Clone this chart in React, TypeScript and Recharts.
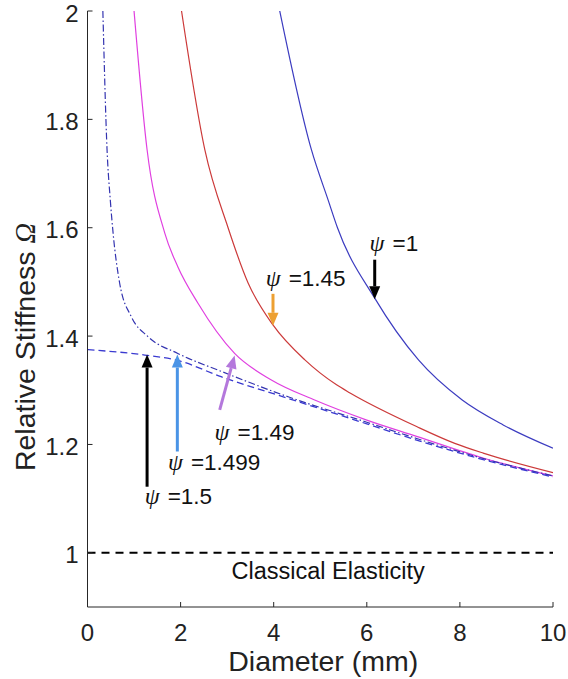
import { LineChart, Line, XAxis, YAxis, ReferenceLine, ReferenceDot } from "recharts";

// diameter (mm) and relative stiffness, one pair of arrays per psi
const psi1D = [4.13, 4.81, 5.17, 5.37, 6.17, 7.11, 8.05, 8.93, 10];
const psi1W = [2.0, 1.744, 1.651, 1.6, 1.47, 1.356, 1.282, 1.236, 1.193];

const psi145D = [2.02, 2.52, 3.02, 3.45, 3.98, 4.67, 5.35, 5.64, 7.07, 7.89, 8.5, 10];
const psi145W = [2.0, 1.744, 1.6, 1.498, 1.421, 1.356, 1.31, 1.295, 1.233, 1.202, 1.184, 1.148];

const psi149D = [1.0, 1.28, 1.66, 1.94, 2.37, 3.16, 3.95, 4.88, 6.0, 7.07, 8.5, 10];
const psi149W = [2.0, 1.744, 1.59, 1.528, 1.461, 1.368, 1.319, 1.282, 1.245, 1.215, 1.175, 1.142];

const psi1499D = [0.33, 0.42, 0.49, 0.55, 0.69, 0.94, 1.3, 1.94, 2.87, 4.31, 6.0, 7.07, 8.5, 10];
const psi1499W = [2.0, 1.744, 1.651, 1.59, 1.498, 1.436, 1.399, 1.368, 1.335, 1.288, 1.241, 1.211, 1.174, 1.142];

const psi15D = [0, 1.23, 1.94, 2.87, 4.31, 6.0, 7.07, 8.5, 10];
const psi15W = [1.375, 1.365, 1.355, 1.325, 1.285, 1.238, 1.208, 1.172, 1.14];

const xTicks = [0, 2, 4, 6, 8, 10];
const yTicks = [1, 1.2, 1.4, 1.6, 1.8, 2];

const toPts = (d: number[], w: number[]) => d.map((v, i) => ({ d: v, w: w[i] }));

const AXIS = "#262626";
const SANS = "'Liberation Sans', Arial, sans-serif";
const SERIF = "'Liberation Serif', 'Times New Roman', serif";

function XTick({ x, y, payload }: any) {
  const ay = y - 10;
  return (
    <g>
      <line x1={x} y1={ay} x2={x} y2={ay - 5} stroke={AXIS} />
      <text x={x} y={ay + 25} textAnchor="middle" dominantBaseline="central" fontSize={24} fill="#222">
        {payload.value}
      </text>
    </g>
  );
}

function YTick({ x, y, payload }: any) {
  const ax = x + 9;
  return (
    <g>
      <line x1={ax} y1={y} x2={ax + 5} y2={y} stroke={AXIS} />
      <text x={x} y={y + 2} textAnchor="end" dominantBaseline="central" fontSize={24} fill="#222">
        {payload.value}
      </text>
    </g>
  );
}

const arrow = (color: string) => (p: any) => {
  const { x1, y1, x2, y2 } = p;
  const a = Math.atan2(y2 - y1, x2 - x1);
  const len = 13;
  const hw = 5.5;
  const bx = x2 - len * Math.cos(a);
  const by = y2 - len * Math.sin(a);
  const nx = -Math.sin(a) * hw;
  const ny = Math.cos(a) * hw;
  return (
    <g>
      <line x1={x1} y1={y1} x2={bx} y2={by} stroke={color} strokeWidth={3} />
      <polygon points={`${x2},${y2} ${bx + nx},${by + ny} ${bx - nx},${by - ny}`} fill={color} />
    </g>
  );
};

const psiLabel = (value: string) => (p: any) => (
  <text x={p.cx} y={p.cy} dominantBaseline="central" fontSize={22.5} fill="#111" fontFamily={SANS}>
    <tspan fontFamily={SERIF} fontStyle="italic" fontSize={24}>ψ</tspan>
    <tspan dx={8}>={value}</tspan>
  </text>
);

const classicLabel = (p: any) => (
  <text x={p.cx} y={p.cy} textAnchor="middle" dominantBaseline="central" fontSize={23.5} fill="#111" fontFamily={SANS}>
    Classical Elasticity
  </text>
);

const xLabel = (props: any) => {
  const vb = props.viewBox;
  return (
    <text x={vb.x + vb.width / 2 + 3} y={661} textAnchor="middle" dominantBaseline="central" fontSize={28.5} fill="#222">
      Diameter (mm)
    </text>
  );
};

const yLabel = (props: any) => {
  const vb = props.viewBox;
  const cx = 25;
  const cy = vb.y + vb.height / 2 + 38;
  return (
    <text x={cx} y={cy} transform={`rotate(-90 ${cx} ${cy})`} textAnchor="middle" dominantBaseline="central" fontSize={28.5} fill="#222">
      Relative Stiffness <tspan fontFamily={SERIF} fontStyle="italic">Ω</tspan>
    </text>
  );
};

export default function App() {
  return (
    <div style={{ position: "absolute", left: 0, top: 0, background: "#fff", fontFamily: SANS }}>
      <LineChart width={568} height={679} margin={{ top: 11, right: 15, bottom: 0, left: 0 }}>
        <XAxis
          type="number"
          dataKey="d"
          domain={[0, 10]}
          ticks={xTicks}
          allowDataOverflow
          height={72}
          stroke={AXIS}
          tickLine={false}
          tickSize={0}
          tickMargin={10}
          tick={<XTick />}
          label={{ content: xLabel }}
        />
        <YAxis
          type="number"
          dataKey="w"
          domain={[0.9, 2]}
          ticks={yTicks}
          allowDataOverflow
          width={87.5}
          stroke={AXIS}
          tickLine={false}
          tickSize={0}
          tickMargin={9}
          tick={<YTick />}
          label={{ content: yLabel }}
        />
        <ReferenceLine y={1} stroke="#000" strokeWidth={2} strokeDasharray="8 6" />

        <Line data={toPts(psi1D, psi1W)} dataKey="w" type="monotone" stroke="#3c3cc0" strokeWidth={1.2} dot={false} isAnimationActive={false} />
        <Line data={toPts(psi145D, psi145W)} dataKey="w" type="monotone" stroke="#cc3a3a" strokeWidth={1.2} dot={false} isAnimationActive={false} />
        <Line data={toPts(psi149D, psi149W)} dataKey="w" type="monotone" stroke="#e040e0" strokeWidth={1.2} dot={false} isAnimationActive={false} />
        <Line data={toPts(psi1499D, psi1499W)} dataKey="w" type="monotone" stroke="#3434b0" strokeWidth={1.2} strokeDasharray="7 2.5 1.5 2.5" dot={false} isAnimationActive={false} />
        <Line data={toPts(psi15D, psi15W)} dataKey="w" type="monotone" stroke="#3a3ad0" strokeWidth={1.3} strokeDasharray="7 4" dot={false} isAnimationActive={false} />

        <ReferenceLine segment={[{ x: 6.17, y: 1.541 }, { x: 6.17, y: 1.468 }]} shape={arrow("#000")} />
        <ReferenceLine segment={[{ x: 3.985, y: 1.478 }, { x: 3.985, y: 1.419 }]} shape={arrow("#eda032")} />
        <ReferenceLine segment={[{ x: 2.84, y: 1.264 }, { x: 3.16, y: 1.364 }]} shape={arrow("#b478dc")} />
        <ReferenceLine segment={[{ x: 1.93, y: 1.187 }, { x: 1.93, y: 1.366 }]} shape={arrow("#4a94e6")} />
        <ReferenceLine segment={[{ x: 1.28, y: 1.122 }, { x: 1.28, y: 1.366 }]} shape={arrow("#000")} />

        <ReferenceDot x={6.06} y={1.572} r={0} shape={psiLabel("1")} />
        <ReferenceDot x={3.83} y={1.507} r={0} shape={psiLabel("1.45")} />
        <ReferenceDot x={2.73} y={1.223} r={0} shape={psiLabel("1.49")} />
        <ReferenceDot x={1.73} y={1.167} r={0} shape={psiLabel("1.499")} />
        <ReferenceDot x={1.23} y={1.105} r={0} shape={psiLabel("1.5")} />
        <ReferenceDot x={5.17} y={0.967} r={0} shape={classicLabel} />
      </LineChart>
    </div>
  );
}
